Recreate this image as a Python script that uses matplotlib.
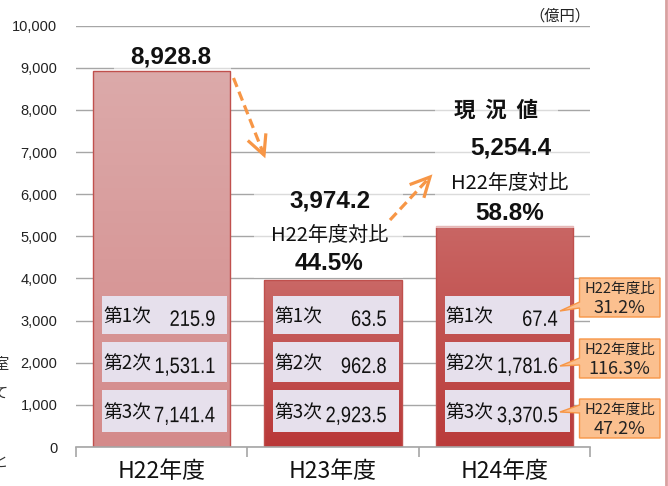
import matplotlib
matplotlib.use('Agg')
import matplotlib.pyplot as plt
import numpy as np
from matplotlib.font_manager import FontProperties
from matplotlib.patches import Rectangle, Polygon, PathPatch
from matplotlib.lines import Line2D
from matplotlib.colors import LinearSegmentedColormap
from matplotlib.textpath import TextPath
from matplotlib.transforms import Affine2D, IdentityTransform

# ---------------- data ----------------
categories = ['H22年度', 'H23年度', 'H24年度']
totals = [8928.8, 3974.2, 5254.4]
sector_names = ['第1次', '第2次', '第3次']
primary = [215.9, 63.5, 67.4]
secondary = [1531.1, 962.8, 1781.6]
tertiary = [7141.4, 2923.5, 3370.5]
ratio_vs_h22 = ['44.5%', '58.8%']          # H23, H24 totals vs H22
h24_sector_ratio = ['31.2%', '116.3%', '47.2%']  # 第1次, 第2次, 第3次
yticks = [0, 1000, 2000, 3000, 4000, 5000, 6000, 7000, 8000, 9000, 10000]

# ---------------- fonts ----------------
CJK = 'Noto Sans CJK JP'
SANS = 'Liberation Sans'
plt.rcParams['font.family'] = [CJK, 'DejaVu Sans']

W, H = 668, 486
fig = plt.figure(figsize=(W / 100, H / 100), dpi=100)
fig.patch.set_facecolor('white')

Y0, Y10 = 447.0, 25.7   # pixel rows of 0 and 10,000
AX_L, AX_R = 76.0, 590.0
ax = fig.add_axes([AX_L / W, 1 - Y0 / H, (AX_R - AX_L) / W, (Y0 - Y10) / H])
ax.set_xlim(-0.5, 2.5)
ax.set_ylim(0, 10000)
ax.set_facecolor('white')

def fx(x):
    return x / W

def fy(y):
    return 1 - y / H

def ydata(ypix):
    return (Y0 - ypix) * 10000 / (Y0 - Y10)

# grid
ax.set_yticks(yticks)
ax.set_yticklabels([f'{v:,}' for v in yticks], fontfamily=SANS, fontsize=10.5, color='#222222')
ax.yaxis.grid(True, color='#A6A6A6', lw=1.0, zorder=0)
ax.set_axisbelow(True)
ax.tick_params(axis='y', length=0, pad=13.5)
for s in ['top', 'right', 'left']:
    ax.spines[s].set_visible(False)
ax.spines['bottom'].set_color('#A6A6A6')
ax.spines['bottom'].set_linewidth(1.2)

x = np.arange(len(categories))
ax.set_xticks(x)
ax.set_xticklabels(categories, fontsize=16.5, color='#111111')
ax.tick_params(axis='x', length=0, pad=9)
ax.set_xticks([-0.5, 0.5, 1.5, 2.5], minor=True)
ax.tick_params(axis='x', which='minor', length=7, color='#A6A6A6', width=1.2)

# bars with vertical gradient
grads = [('#DCAAAA', '#D48A8A'), ('#CA6866', '#B93838'), ('#C96664', '#BA3B3A')]
bw = 0.8
bars = ax.bar(x, totals, width=bw, color='none', edgecolor='#C0504D', lw=1.0, zorder=2)
for b, (ctop, cbot) in zip(bars, grads):
    cmap = LinearSegmentedColormap.from_list('g', [cbot, ctop])
    grad = np.linspace(0, 1, 256).reshape(-1, 1)
    im = ax.imshow(grad, cmap=cmap, aspect='auto', origin='lower',
                   extent=[b.get_x(), b.get_x() + b.get_width(), 0, b.get_height()], zorder=1.5)
    im.set_clip_path(b)
ax.set_xlim(-0.5, 2.5)
ax.set_ylim(0, 10000)

# condensed text (narrow digits) drawn as a path in display pixels
val_prop = FontProperties(family=SANS)
def condensed_text(xd, yd, s, em_px=22.3, sx=0.82, color='#111111'):
    X, Y = ax.transData.transform((xd, yd))
    tp = TextPath((0, 0), s, size=em_px, prop=val_prop)
    ext = tp.get_extents()
    cap = 0.716 * em_px
    tr = Affine2D().scale(sx, 1.0).translate(X - ext.x1 * sx, Y - cap / 2) + IdentityTransform()
    fig.add_artist(PathPatch(tp, transform=tr, facecolor=color, edgecolor='none', zorder=8))

# inner sector boxes
px_unit = 1 / ((AX_R - AX_L) / 3)   # data units per pixel in x
box_rows = [(295.7, 333.5), (341.7, 381.7), (390.0, 431.7)]
sector_vals = [primary, secondary, tertiary]
for i in range(len(categories)):
    left = x[i] - bw / 2 + 8.7 * px_unit
    right = x[i] + bw / 2 - 2.7 * px_unit
    for k, (t, btm) in enumerate(box_rows):
        yb, yt = ydata(btm), ydata(t)
        ax.add_patch(Rectangle((left, yb), right - left, yt - yb, facecolor='#E6E0EC',
                               edgecolor='none', zorder=3))
        ax.text(left + 1.2 * px_unit, ydata((t + btm) / 2 + 2.5), sector_names[k], ha='left',
                va='center', fontsize=13.5, color='#111111', zorder=4)
        condensed_text(right - 13 * px_unit, ydata((t + btm) / 2 + 3.3),
                       f'{sector_vals[k][i]:,.1f}')

# translucent white label backgrounds (soften gridlines)
for (x0, y0, x1, y1) in [(114, 40, 231, 70), (435, 95, 558, 125), (435, 132, 590, 228),
                         (254, 184, 403, 278)]:
    fig.add_artist(Rectangle((fx(x0), fy(y1)), fx(x1) - fx(x0), fy(y0) - fy(y1),
                             transform=fig.transFigure, facecolor='white', alpha=0.6,
                             edgecolor='none', zorder=1))

def ftext(xp, yp, s, **kw):
    kw.setdefault('ha', 'center')
    kw.setdefault('va', 'center')
    fig.text(fx(xp), fy(yp), s, **kw)

# big labels
big = dict(fontfamily=SANS, fontweight='bold', fontsize=17.5, color='#111111')
ftext(171, 57, f'{totals[0]:,.1f}', **big)
ftext(330, 201, f'{totals[1]:,.1f}', **big)
ftext(330, 235, 'H22年度対比', fontsize=14.5, color='#111111')
ftext(329, 263, ratio_vs_h22[0], **big)
ftext(496, 110, '現  況  値', fontsize=15.5, fontweight='bold', color='#111111')
ftext(511, 148, f'{totals[2]:,.1f}', **big)
ftext(510, 183, 'H22年度対比', fontsize=14.5, color='#111111')
ftext(510, 213, ratio_vs_h22[1], **big)
ftext(590, 16, '（億円）', ha='right', fontsize=11, color='#222222')

# dashed orange arrows
ORANGE = '#F79646'
def dashed_arrow(p0, p1, L=18, Wd=9):
    (x0, y0), (x1, y1) = p0, p1
    fig.add_artist(Line2D([fx(x0), fx(x1)], [fy(y0), fy(y1)], transform=fig.transFigure,
                          color=ORANGE, lw=2.3, ls=(0, (3.0, 1.6)), zorder=5))
    d = np.array([x1 - x0, y1 - y0], float)
    d /= np.hypot(*d)
    n = np.array([-d[1], d[0]])
    tip = np.array([x1, y1])
    a = tip - L * d + Wd * n
    b = tip - L * d - Wd * n
    fig.add_artist(Line2D([fx(a[0]), fx(tip[0]), fx(b[0])], [fy(a[1]), fy(tip[1]), fy(b[1])],
                          transform=fig.transFigure, color=ORANGE, lw=2.3,
                          solid_joinstyle='miter', zorder=5))

dashed_arrow((233.5, 78), (264, 155))
dashed_arrow((390, 220), (430, 177))

# callouts for H24 sector ratios
callouts = [(278, 317, 302, 308, 311), (339, 378, 358, 365, 366), (399, 438, 405, 413, 412)]
for (top, bot, wb1, wb2, tipy), r in zip(callouts, h24_sector_ratio):
    L, R = 579.5, 660
    pts = [(L, top), (R, top), (R, bot), (L, bot), (L, wb2), (560, tipy), (L, wb1)]
    fig.add_artist(Polygon([(fx(a), fy(b)) for a, b in pts], closed=True,
                           transform=fig.transFigure, facecolor='#FBC08F',
                           edgecolor=ORANGE, lw=1.0, zorder=6))
    ftext((L + R) / 2, top + 10.5, 'H22年度比', fontsize=10.5, color='#222222', zorder=7)
    ftext((L + R) / 2, top + 29.5, r, fontsize=13, color='#222222', zorder=7)

# right-side pink rule and clipped fragments on the left margin
fig.add_artist(Line2D([fx(665.5), fx(665.5)], [0, 1], transform=fig.transFigure,
                      color='#D9A0A0', lw=2.0))
for yp, ch in [(365, '室'), (393, 'て'), (462, 'と')]:
    fig.text(fx(-7), fy(yp), ch, ha='left', va='center', fontsize=11, color='#333333')

fig.savefig('out.png', dpi=100, facecolor='white')
